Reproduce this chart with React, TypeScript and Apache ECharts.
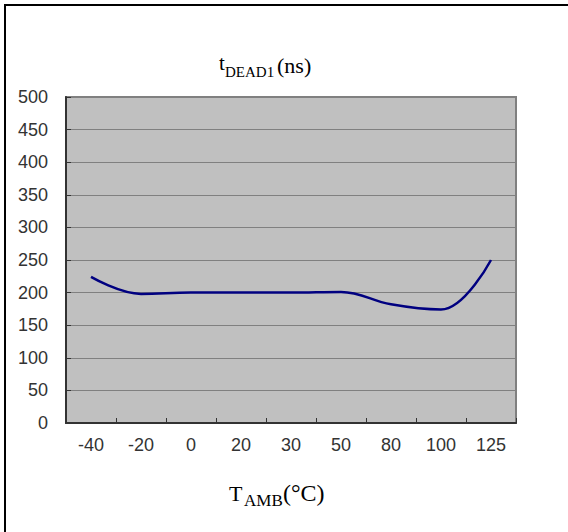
import React, { useEffect, useRef } from "react";
import * as echarts from "echarts";

const categories = ["-40", "-20", "0", "20", "30", "50", "80", "100", "125"];
const tDead1 = [224, 198, 200, 200, 200, 201, 182, 174, 250];
const yMin = 0;
const yMax = 500;
const yStep = 50;

export default function App() {
  const ref = useRef<HTMLDivElement>(null);
  useEffect(() => {
    if (!ref.current) return;
    const chart = echarts.init(ref.current, null, { renderer: "svg" });
    const serif = "Liberation Serif";
    chart.setOption({
      animation: false,
      backgroundColor: "#ffffff",
      grid: {
        left: 66,
        right: 52,
        top: 97,
        bottom: 109,
        show: true,
        backgroundColor: "#c0c0c0",
        borderColor: "#808080",
        borderWidth: 2,
      },
      xAxis: {
        type: "category",
        data: categories,
        boundaryGap: true,
        axisLine: { show: true, lineStyle: { color: "#333333", width: 2 } },
        axisTick: { show: true, inside: true, length: 5, lineStyle: { color: "#333333", width: 1 } },
        axisLabel: { color: "#333", fontFamily: "Liberation Sans", fontSize: 18, margin: 13 },
        splitLine: { show: false },
      },
      yAxis: {
        type: "value",
        min: yMin,
        max: yMax,
        interval: yStep,
        axisLine: { show: true, lineStyle: { color: "#333333", width: 2 } },
        axisTick: { show: true, inside: true, length: 5, lineStyle: { color: "#333333", width: 1 } },
        axisLabel: { color: "#333", fontFamily: "Liberation Sans", fontSize: 18, margin: 18 },
        splitLine: { show: true, lineStyle: { color: "#808080", width: 1 } },
      },
      series: [
        {
          type: "line",
          data: tDead1,
          smooth: 0.4,
          symbol: "none",
          lineStyle: { color: "#000080", width: 2.5 },
        },
      ],
      graphic: [
        { type: "line", shape: { x1: 5, y1: 4, x2: 5, y2: 532 }, style: { stroke: "#000", lineWidth: 2 } },
        { type: "line", shape: { x1: 4, y1: 5, x2: 568, y2: 5 }, style: { stroke: "#000", lineWidth: 2 } },
        { type: "text", x: 219, y: 52, style: { text: "t", font: `21px "${serif}"`, fill: "#000", verticalAlign: "top" } },
        { type: "text", x: 225, y: 64, style: { text: "DEAD1", font: `15px "${serif}"`, fill: "#000", verticalAlign: "top" } },
        { type: "text", x: 277, y: 54, style: { text: "(ns)", font: `22px "${serif}"`, fill: "#000", verticalAlign: "top" } },
        { type: "text", x: 229, y: 482, style: { text: "T", font: `22px "${serif}"`, fill: "#000", verticalAlign: "top" } },
        { type: "text", x: 244, y: 492, style: { text: "AMB", font: `17px "${serif}"`, fill: "#000", verticalAlign: "top" } },
        { type: "text", x: 283, y: 481, style: { text: "(°C)", font: `24px "${serif}"`, fill: "#000", verticalAlign: "top" } },
      ],
    });
    return () => chart.dispose();
  }, []);
  return (
    <div
      ref={ref}
      style={{ position: "absolute", left: 0, top: 0, width: 568, height: 532, background: "#fff" }}
    />
  );
}
